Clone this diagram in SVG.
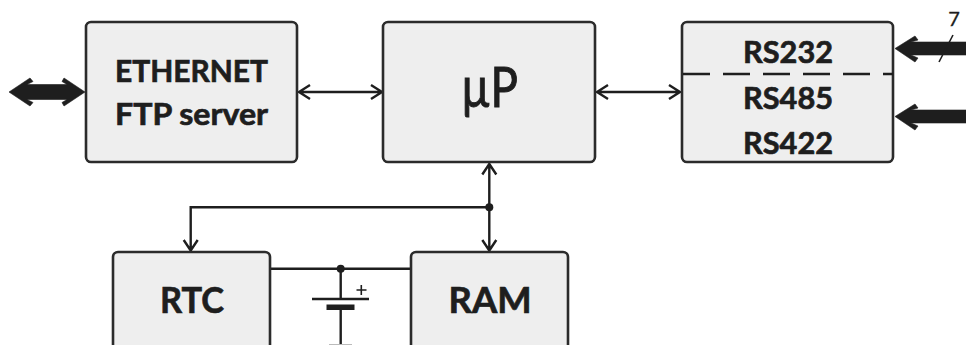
<svg xmlns="http://www.w3.org/2000/svg" width="966" height="345" viewBox="0 0 966 345">
<style>
.box{fill:#eeeeee;stroke:#2b2b2b;stroke-width:2.6}
.t{font-family:Lato,"Open Sans","Liberation Sans",sans-serif;font-weight:700;fill:#1e1e1e;stroke:#1e1e1e;stroke-width:0.7;text-anchor:middle}
.r{font-family:Lato,"Open Sans","Liberation Sans",sans-serif;fill:#1e1e1e;stroke:#1e1e1e;text-anchor:middle}
.w{fill:none;stroke:#1e1e1e;stroke-width:2.4}
.n{fill:none;stroke:#1e1e1e;stroke-width:1.6}
.thick{fill:#1e1e1e;stroke:#1e1e1e;stroke-width:0.6}
.d{fill:#1e1e1e}
</style>
<rect width="966" height="345" fill="#ffffff"/>
<g id="connectors">
<path class="thick" d="M9 92L30 78L33 81.500L27 84.500H67L62 81.500L64 78L85 92L64 106L62 102.500L67 99.500H27L33 102.500L30 106Z"/>
<path class="w" d="M299 92H382M310 85L299 92L310 99M371 85L382 92L371 99"/>
<path class="w" d="M597 92H680M608 85L597 92L608 99M669 85L680 92L669 99"/>
<path class="w" d="M489.300 165V250M482.300 174.500L489.300 164L496.300 174.500M482.300 240L489.300 250.500L496.300 240"/>
<path class="w" d="M489.300 207.300H190.700V250M183.700 240L190.700 250.500L197.700 240"/>
<circle class="d" cx="489.300" cy="207.300" r="4"/>
<path class="w" d="M271 268.700H410M340.700 268.700V299M340.700 307V345M312 299H369"/>
<circle class="d" cx="340.700" cy="268.700" r="4"/>
<rect class="d" x="326.500" y="304.500" width="28" height="5.500"/>
<path class="n" d="M356.500 290H366.500M361.300 285V295"/>
<path d="M329 344.500H352" fill="none" stroke="#bbbbbb" stroke-width="1"/>
<path class="thick" d="M895 48.500L915 36L918 40L911 42H966V55H911L918 58L915 62Z"/>
<path class="thick" d="M895 116.500L915 104L918 108L911 110H966V123H911L918 126L915 130Z"/>
<path class="n" d="M939 62L953 35"/>
</g>
<g id="ethernet"><rect class="box" x="86" y="22" width="211" height="140" rx="5"/>
<text class="t" x="191.500" y="82" font-size="31" textLength="153" lengthAdjust="spacingAndGlyphs">ETHERNET</text>
<text class="t" x="191.500" y="125" font-size="31" textLength="153" lengthAdjust="spacingAndGlyphs">FTP server</text></g>
<g id="up"><rect class="box" x="383" y="22" width="212" height="140" rx="5"/>
<text class="r" x="489.500" y="107" font-size="56" stroke-width="1" textLength="57" lengthAdjust="spacingAndGlyphs">µP</text></g>
<g id="rs"><rect class="box" x="682" y="22" width="211" height="140" rx="5"/>
<path d="M683 74H893" fill="none" stroke="#1e1e1e" stroke-width="2.600" stroke-dasharray="27 13"/>
<text class="t" x="788" y="63" font-size="31" textLength="90" lengthAdjust="spacingAndGlyphs">RS232</text>
<text class="t" x="788" y="109" font-size="31" textLength="90" lengthAdjust="spacingAndGlyphs">RS485</text>
<text class="t" x="788" y="154" font-size="31" textLength="90" lengthAdjust="spacingAndGlyphs">RS422</text></g>
<g id="rtc"><rect class="box" x="113" y="252" width="157" height="110" rx="5"/>
<text class="t" x="192" y="313" font-size="37" textLength="64" lengthAdjust="spacingAndGlyphs">RTC</text></g>
<g id="ram"><rect class="box" x="411" y="252" width="157" height="110" rx="5"/>
<text class="t" x="490" y="313" font-size="37" textLength="83" lengthAdjust="spacingAndGlyphs">RAM</text></g>
<text class="r" x="954" y="26" font-size="20" stroke-width="0.3">7</text>
</svg>
